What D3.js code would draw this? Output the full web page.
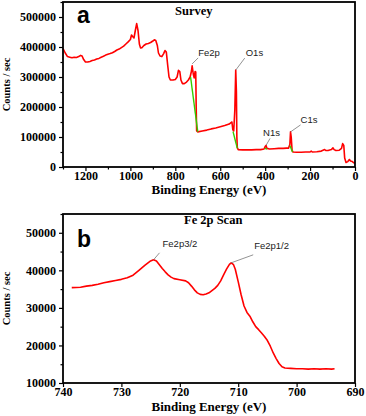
<!DOCTYPE html>
<html><head><meta charset="utf-8">
<script src="https://cdn.jsdelivr.net/npm/d3@7"></script>
<style>
body{margin:0;background:#fff;}
svg{display:block;}
.tk text{font-family:"Liberation Serif","Times New Roman",serif;font-weight:bold;font-size:12px;fill:#000;}
.tk path.domain{display:none;}
</style></head>
<body>
<script>
// ---------- DATA ----------
// Panel a: survey spectrum [binding energy (eV), counts/sec]
const surveyE = [1300,1290,1280,1270,1260,1250,1240,1230,1222,1215,1208,1200,1190,1180,1170,1160,1150,1140,1130,1120,1110,1100,1090,1080,1070,1060,1050,1040,1030,1020,1010,1000,995,990,984,978,972,966,960,955,948,940,930,920,910,900,893,887,880,875,868,860,852,846,840,834,828,822,810,800,792,786,780,775,768,760,750,742,734,728,725,720,716,712,709,707,705,700,680,660,640,620,600,580,560,552,548,544,540,535,531,528,526,524,520,500,480,460,440,420,405,400,396,392,380,360,340,320,305,296,290,287,284,280,276,260,240,220,200,195,190,170,150,135,130,120,105,98,93,85,70,60,55,50,46,40,32,25,20,12,5,0];
const surveyC = [395000,380000,368000,366000,364000,366000,365000,368000,372000,370000,358000,350000,350000,352000,355000,357000,360000,362000,366000,369000,373000,376000,378000,381000,385000,390000,393000,398000,403000,410000,417000,425000,440000,435000,430000,455000,478000,455000,410000,397000,398000,405000,410000,412000,415000,420000,424000,422000,405000,380000,370000,368000,378000,388000,383000,340000,300000,290000,290000,292000,300000,322000,318000,290000,278000,278000,283000,290000,300000,320000,337000,310000,297000,318000,317000,200000,120000,117000,120000,123000,127000,130000,134000,138000,143000,148000,150000,125000,120000,190000,323000,250000,100000,65000,58000,57000,57000,57000,58000,58000,60000,68000,72000,62000,60000,61000,62000,62000,63000,63000,75000,117000,100000,55000,50000,49000,49000,50000,50000,53000,50000,51000,53000,58000,55000,55000,58000,64000,58000,55000,56000,62000,78000,72000,30000,15000,18000,25000,20000,18000,14000,12000];
// Green background segments under peaks [E1, C1, E2, C2]
const bgFe2p = [732,300000,700,117000];
const bgO1s  = [543,118000,524,62000];
const bgN1s  = [402,62000,392,60000];
const bgC1s  = [290,72000,278,50000];

// Panel b: Fe 2p scan
const fe2pE = [738.5,737,736,735,734,733,732,731,730,729,728,727,726,725,724.5,724,723.5,723,722.5,722,721.5,721,720,719,718.5,718,717.5,717,716.5,716,715.5,715,714.5,714,713.5,713,712.5,712,711.5,711.2,710.8,710.5,710,709.5,709,708.5,708,707.5,707,706.5,706,705.5,705,704.5,704,703.5,703,702.5,702,701,700,699,698,697,696,695,694,693.5];
const fe2pC = [35400,35500,35800,36000,36300,36700,37000,37300,37600,38000,38700,40000,41300,42500,42800,42500,41500,40500,39600,38800,38200,37800,37500,37200,36700,35800,34800,34000,33600,33500,33700,34000,34600,35200,36000,37200,38800,40300,41600,42000,41500,40300,37000,33500,30500,28800,27800,26300,25000,24200,23300,22400,21300,19800,18000,16500,15200,14300,14000,13900,13800,13800,13700,13800,13700,13800,13700,13800];

const xTicksA = [1200,1000,800,600,400,200,0];
const yTicksA = [0,100000,200000,300000,400000,500000];
const xTicksB = [740,730,720,710,700,690];
const yTicksB = [10000,20000,30000,40000,50000];

const labelsA = [{t:"Fe2p",e:725,c:337000},{t:"O1s",e:531,c:323000},{t:"N1s",e:396,c:72000},{t:"C1s",e:287,c:117000}];
const labelsB = [{t:"Fe2p3/2",e:724.5,c:42800},{t:"Fe2p1/2",e:711.2,c:42000}];

// ---------- DRAW ----------
const W=366,H=416;
const svg=d3.select("body").append("svg").attr("width",W).attr("height",H);
const L=63,R=355;

function panel(o){
  const x=d3.scaleLinear().domain(o.xd).range([L,R]);
  const y=d3.scaleLinear().domain(o.yd).range([o.bot,o.top]);
  const g=svg.append("g");
  // minor ticks
  g.append("g").attr("class","tk").attr("transform",`translate(0,${o.bot})`)
    .call(d3.axisBottom(x).tickValues(o.xMinor).tickSize(2.5).tickFormat(""));
  g.append("g").attr("class","tk").attr("transform",`translate(${L},0)`)
    .call(d3.axisLeft(y).tickValues(o.yMinor).tickSize(2.5).tickFormat(""));
  g.append("g").attr("class","tk").attr("transform",`translate(0,${o.bot})`)
    .call(d3.axisBottom(x).tickValues(o.xt).tickSize(4).tickPadding(o.xPad).tickFormat(d3.format("d")));
  g.append("g").attr("class","tk").attr("transform",`translate(${L},0)`)
    .call(d3.axisLeft(y).tickValues(o.yt).tickSize(4).tickPadding(3).tickFormat(d3.format("d")));
  g.selectAll(".tk line").attr("stroke","#000").attr("stroke-width",1.2);
  // line
  const line=d3.line().x(d=>x(d[0])).y(d=>y(d[1]));
  g.append("path").datum(d3.zip(o.E,o.C)).attr("d",line)
    .attr("fill","none").attr("stroke","#ff0000").attr("stroke-width",1.6).attr("stroke-linejoin","round");
  (o.bg||[]).forEach(b=>{
    g.append("line").attr("x1",x(b[0])).attr("y1",y(b[1])).attr("x2",x(b[2])).attr("y2",y(b[3]))
      .attr("stroke","#33cc00").attr("stroke-width",1.4);
  });
  // frame
  g.append("rect").attr("x",L).attr("y",o.top).attr("width",R-L).attr("height",o.bot-o.top)
    .attr("fill","none").attr("stroke","#000").attr("stroke-width",1.8);
  // annotations
  o.labels.forEach((l,i)=>{
    const off=o.off[i];
    const px=x(l.e), py=y(l.c);
    g.append("line").attr("x1",px+off[0]).attr("y1",py+off[1]).attr("x2",px+off[2]).attr("y2",py+off[3])
      .attr("stroke","#777").attr("stroke-width",0.8);
    g.append("text").attr("x",px+off[4]).attr("y",py+off[5]).text(l.t)
      .attr("font-family","Liberation Sans, Arial, sans-serif").attr("font-size",9.5).attr("fill","#222");
  });
  // panel letter & title
  g.append("text").attr("x",77).attr("y",o.top+o.letterDy).text(o.letter)
    .attr("font-family","Liberation Sans, Arial, sans-serif").attr("font-weight","bold").attr("font-size",23);
  g.append("text").attr("x",o.titleX).attr("y",o.top+o.titleDy).text(o.title)
    .attr("font-family","Liberation Serif, serif").attr("font-weight","bold").attr("font-size",12.5);
  g.append("text").attr("x",(L+R)/2).attr("y",o.bot+o.xTitleDy).attr("text-anchor","middle")
    .text("Binding Energy (eV)")
    .attr("font-family","Liberation Serif, serif").attr("font-weight","bold").attr("font-size",13);
  g.append("text").attr("transform",`translate(10,${(o.top+o.bot)/2}) rotate(-90)`).attr("text-anchor","middle")
    .text("Counts / sec")
    .attr("font-family","Liberation Serif, serif").attr("font-weight","bold").attr("font-size",10.5);
}

panel({xd:[1300,0],yd:[0,550000],top:2,bot:167,
  E:surveyE,C:surveyC,bg:[bgFe2p,bgO1s,bgN1s,bgC1s],
  xt:xTicksA,yt:yTicksA,xPad:0,
  xMinor:d3.range(1300,-1,-100).filter(v=>v%200!==0),
  yMinor:d3.range(50000,550001,100000),
  labels:labelsA,
  off:[[0,-2,6,-8,6,-10],[0,0,9,-12,10,-14],[0,0,4,-7,-3,-9],[0,0,10,-7,10,-9]],
  letter:"a",letterDy:21,title:"Survey",titleX:175,titleDy:13,xTitleDy:26.5});

panel({xd:[740,690],yd:[10000,55000],top:214,bot:383,
  E:fe2pE,C:fe2pC,
  xt:xTicksB,yt:yTicksB,xPad:0,
  xMinor:d3.range(735,690,10),
  yMinor:d3.range(15000,55001,10000),
  labels:labelsB,
  off:[[0,0,6,-7,9,-13],[0,0,22,-8,23,-14]],
  letter:"b",letterDy:33,title:"Fe 2p Scan",titleX:184,titleDy:10,xTitleDy:28});
</script>
</body></html>
